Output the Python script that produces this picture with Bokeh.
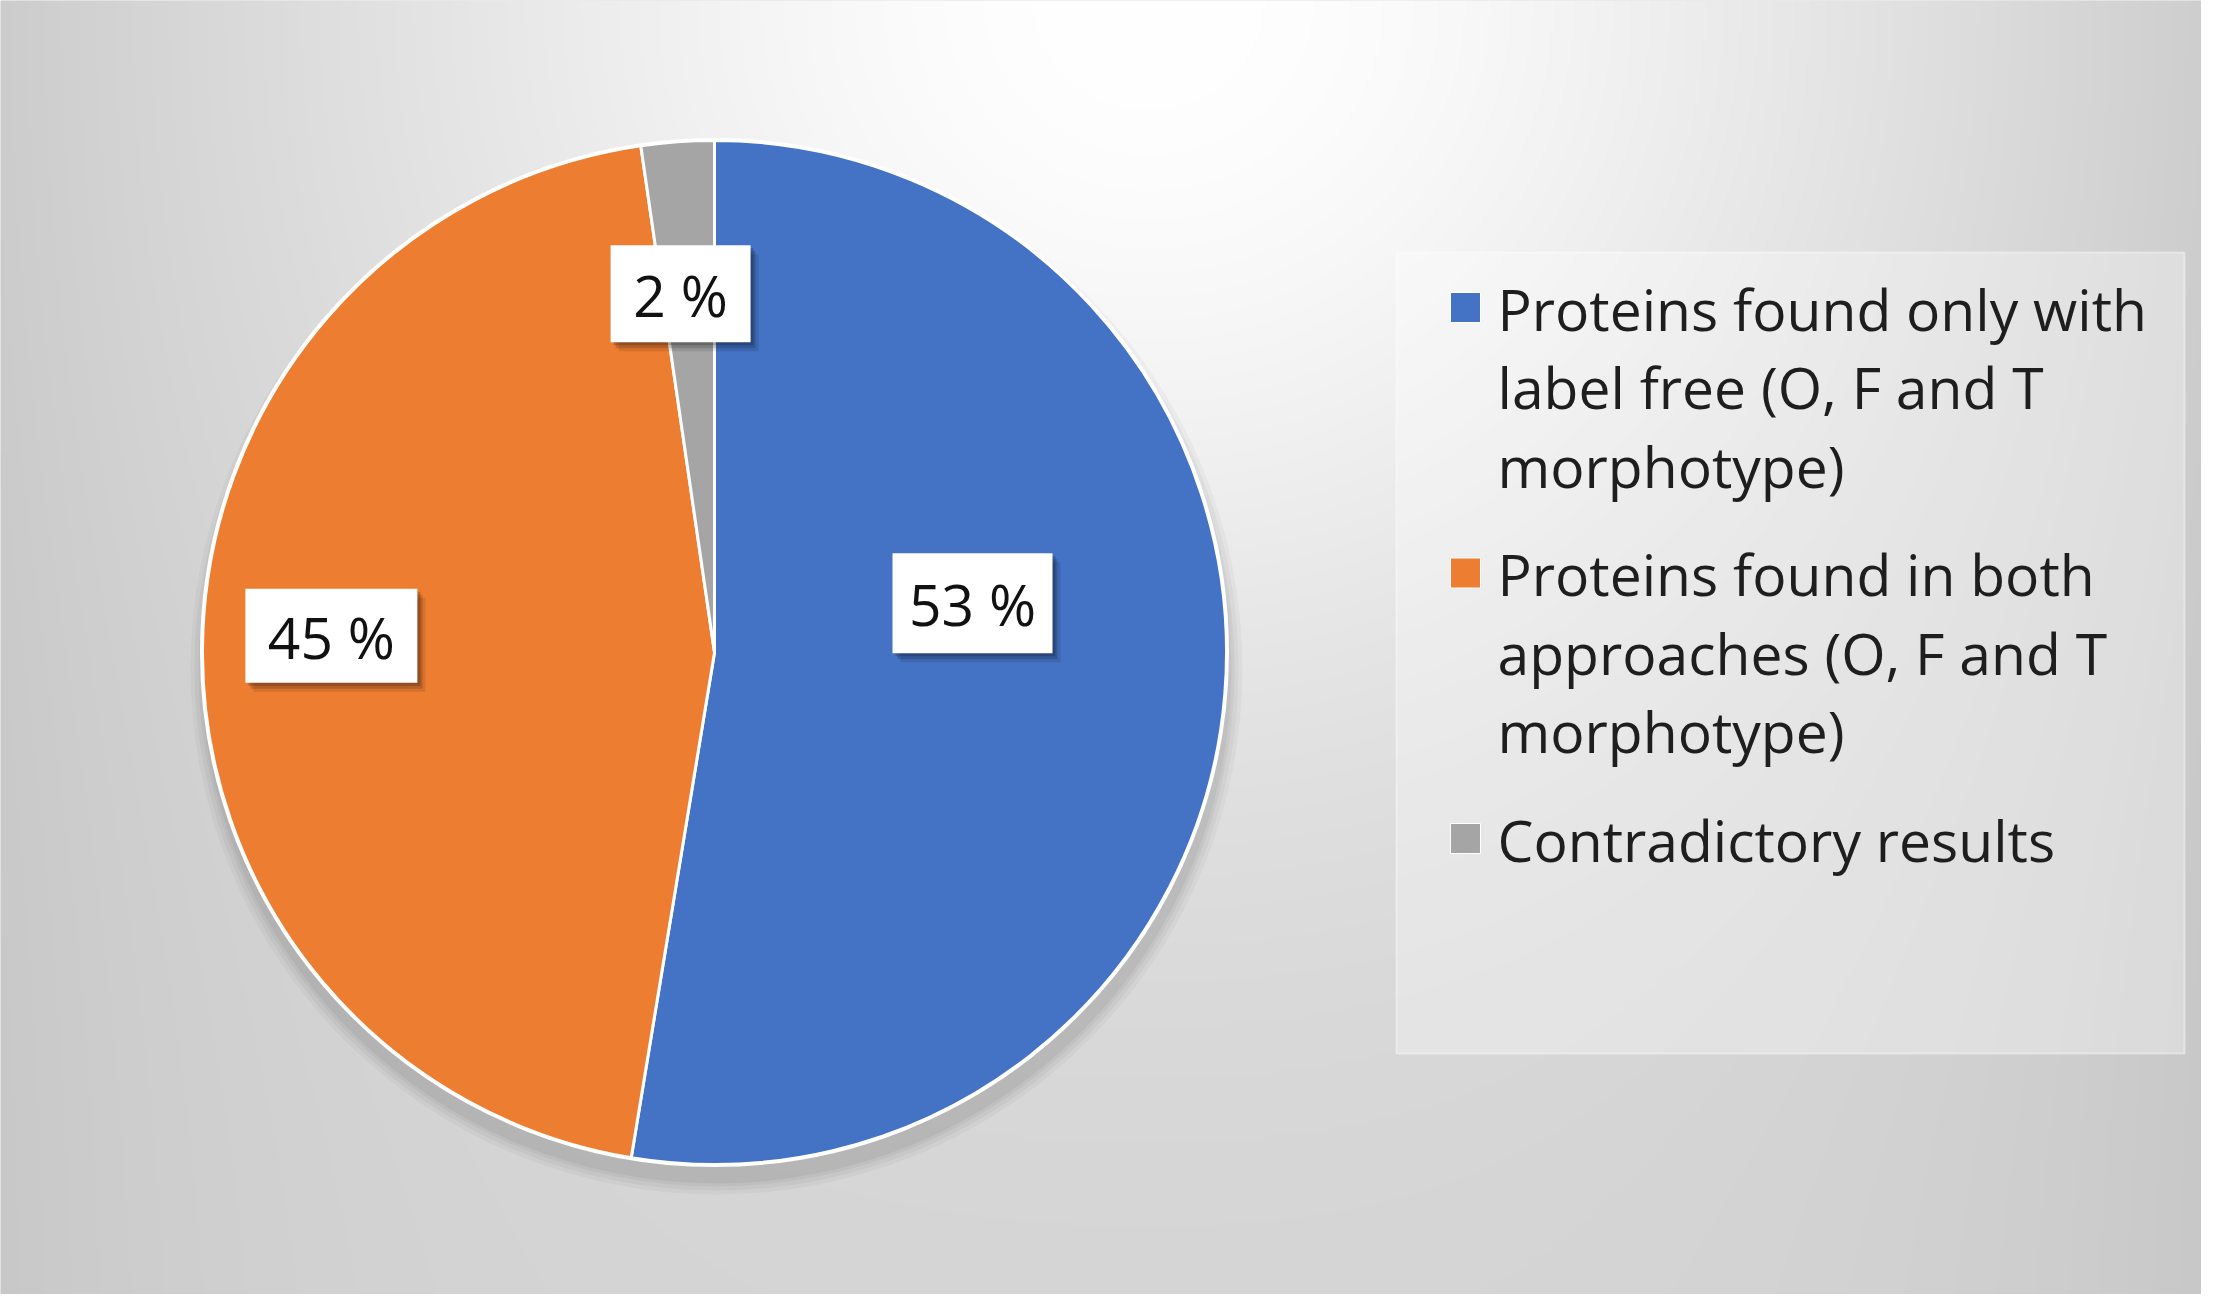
import numpy as np
from bokeh.plotting import figure
from bokeh.models import Range1d
from bokeh.core.properties import value
from bokeh.embed import file_html
from bokeh.resources import INLINE

# ---------------- data ----------------
categories = [
    "Proteins found only with\nlabel free (O, F and T\nmorphotype)",
    "Proteins found in both\napproaches (O, F and T\nmorphotype)",
    "Contradictory results",
]
shares = [52.6, 45.1, 2.3]
labels = ["53 %", "45 %", "2 %"]     # printed data labels
colors = ["#4472C4", "#ED7D31", "#A5A5A5"]

# ---------------- layout ----------------
W, H = 2201, 1294


def px(X):
    return X


def py(Y):
    return H - Y


FONT = "Open Sans"
CX, CY, R = 714, 652, 512

p = figure(width=W, height=H, output_backend="svg", toolbar_location=None,
           x_range=Range1d(0, W), y_range=Range1d(0, H), min_border=0)
p.axis.visible = False
p.grid.visible = False
p.outline_line_color = None
p.background_fill_color = "#d6d6d6"
p.border_fill_color = "#d6d6d6"

# background gradient (decoration)
step = 4
gx = np.arange(0, W, step) + step / 2
gy = np.arange(0, H, step) + step / 2
Xg, Yg = np.meshgrid(gx, gy)
Ypage = H - Yg
v = (212 + 43 * np.exp(-((Xg - 1150) / 760.0) ** 2 - (Ypage / 700.0) ** 2)
     - 12 * ((Xg - 1100) / 1100.0) ** 4)
v = np.clip(v, 0, 255).astype(np.uint32)
img = (255 << 24) | (v << 16) | (v << 8) | v
p.image_rgba(image=[img.astype(np.uint32)], x=0, y=0, dw=W, dh=H)

# pie shadow (soft, mostly below)
for k, a in zip([14, 10, 6, 3], [0.03, 0.035, 0.04, 0.045]):
    p.circle(x=px(CX + 2), y=py(CY + 16), radius=R + k, fill_color="black",
             fill_alpha=a, line_color=None)

# wedges
tot = sum(shares)
cum = np.cumsum([0] + shares) / tot
starts = [np.pi / 2 - 2 * np.pi * c for c in cum[:-1]]
ends = [np.pi / 2 - 2 * np.pi * c for c in cum[1:]]
p.wedge(x=px(CX), y=py(CY), radius=R, start_angle=starts, end_angle=ends,
        direction="clock", fill_color=colors, line_color="white", line_width=3)
p.circle(x=px(CX), y=py(CY), radius=R + 1, fill_color=None,
         line_color="white", line_width=3)

# data labels (polar placement: angle clockwise from top, radius fraction)
lab_ang = [79.2, 272.5, 354.6]
lab_frac = [0.513, 0.749, 0.704]
box_w = [160, 172, 140]
box_h = [100, 94, 97]
lx = [CX + f * R * np.sin(np.radians(a)) for a, f in zip(lab_ang, lab_frac)]
ly = [CY - f * R * np.cos(np.radians(a)) for a, f in zip(lab_ang, lab_frac)]
for dx, dy, al in [(8, 9, 0.10), (5, 6, 0.15), (3, 3, 0.18)]:
    p.rect(x=[px(x + dx) for x in lx], y=[py(y + dy) for y in ly],
           width=box_w, height=box_h, width_units="screen", height_units="screen",
           fill_color="black", fill_alpha=al, line_color=None)
p.rect(x=[px(x) for x in lx], y=[py(y) for y in ly], width=box_w, height=box_h,
       width_units="screen", height_units="screen", fill_color="white",
       line_color=None)
p.text(x=[px(x) for x in lx], y=[py(y + 1) for y in ly], text=labels,
       text_font=value(FONT), text_font_size="57px",
       text_color="#111111", text_align="center", text_baseline="middle")

# legend box
LX0, LX1, LY0, LY1 = 1396, 2184, 252, 1053
p.rect(x=px((LX0 + LX1) / 2), y=py((LY0 + LY1) / 2), width=LX1 - LX0,
       height=LY1 - LY0, fill_color="white", fill_alpha=0.32,
       line_color="white", line_alpha=0.4, line_width=2)

line_gap = 78.5
para_gap = 30
first_line = 306
text_x = 1497
mark_x = 1465
tx, ty, tt = [], [], []
mx, my = [], []
yc = first_line
for cat in categories:
    lines = cat.split("\n")
    mx.append(px(mark_x))
    my.append(py(yc + 1))
    for i, ln in enumerate(lines):
        tx.append(px(text_x))
        ty.append(py(yc + i * line_gap + 2))
        tt.append(ln)
    yc += len(lines) * line_gap + para_gap

p.rect(x=mx, y=my, width=30, height=30, width_units="screen",
       height_units="screen", fill_color=colors, line_color="white",
       line_width=1)
p.text(x=tx, y=ty, text=tt, text_font=value(FONT), text_font_size="57px",
       text_color="#1e1e1e", text_align="left", text_baseline="middle")

open("out.html", "w").write(file_html(p, INLINE))
